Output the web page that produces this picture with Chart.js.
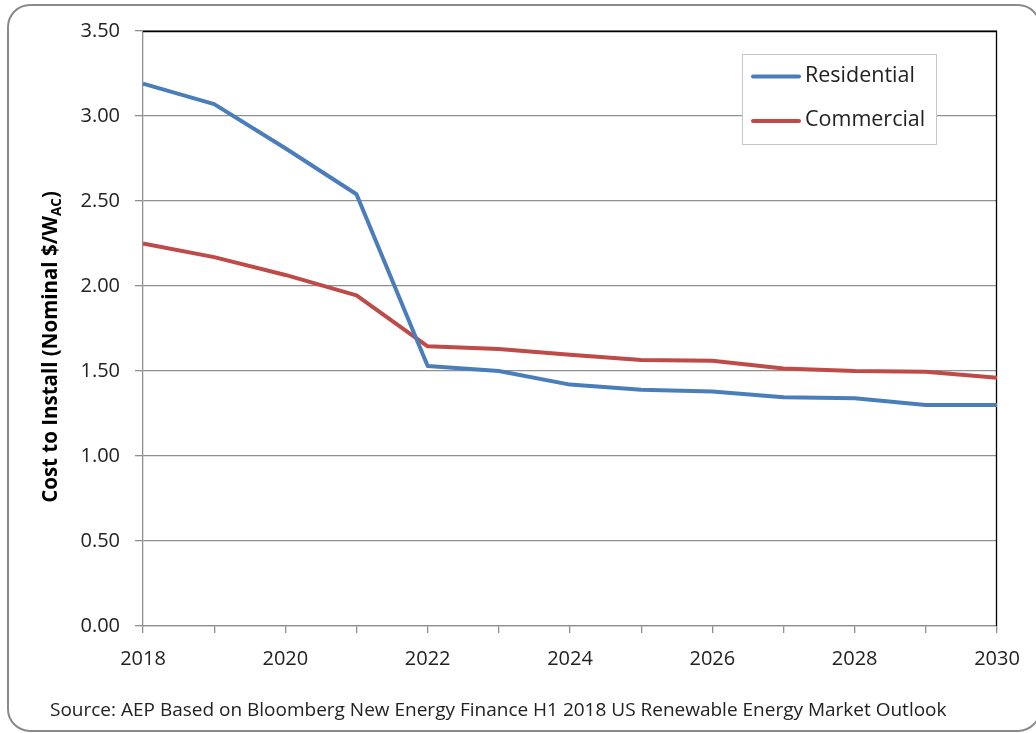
<!DOCTYPE html>
<html>
<head>
<meta charset="utf-8">
<script src="https://cdn.jsdelivr.net/npm/chart.js@4/dist/chart.umd.min.js"></script>
<style>
  html, body { margin: 0; padding: 0; background: #ffffff; }
  #wrap { width: 1036px; height: 733px; position: relative; }
  canvas { display: block; }
</style>
</head>
<body>
<div id="wrap"><canvas id="c" width="1036" height="733"></canvas></div>
<script>
// Installed cost outlook, nominal $ per W(AC)
const years = ['2018','2019','2020','2021','2022','2023','2024','2025','2026','2027','2028','2029','2030'];
const residential = [3.19, 3.07, 2.81, 2.54, 1.53, 1.50, 1.42, 1.39, 1.38, 1.345, 1.34, 1.30, 1.30];
const commercial  = [2.25, 2.17, 2.065, 1.945, 1.645, 1.63, 1.595, 1.565, 1.56, 1.515, 1.50, 1.495, 1.46];
const seriesNames = ['Residential', 'Commercial'];
const seriesColors = ['#4a7ebb', '#be4b48'];
const yMin = 0, yMax = 3.5, yStep = 0.5;
const yTitleMain = 'Cost to Install (Nominal $/W';
const yTitleSub = 'AC';
const yTitleEnd = ')';
const sourceNote = 'Source: AEP Based on Bloomberg New Energy Finance H1 2018 US Renewable Energy Market Outlook';

const FONT = "'Open Sans', 'Noto Sans', sans-serif";
const GRID = '#8f8f8f';
const TEXT = '#222222';

// Rounded frame round the whole figure
const framePlugin = {
  id: 'frame',
  beforeDraw(chart) {
    const ctx = chart.ctx;
    ctx.save();
    ctx.fillStyle = '#ffffff';
    ctx.fillRect(0, 0, chart.width, chart.height);
    ctx.strokeStyle = '#8a8a8a';
    ctx.lineWidth = 2;
    ctx.beginPath();
    ctx.roundRect(8, 5, 1032, 726, 22);
    ctx.stroke();
    ctx.restore();
  }
};

// Dark border on the top and right of the plot area
const plotBorderPlugin = {
  id: 'plotBorder',
  beforeDatasetsDraw(chart) {
    const { ctx, chartArea: a } = chart;
    ctx.save();
    ctx.strokeStyle = '#000000';
    ctx.lineWidth = 1.3;
    ctx.beginPath();
    ctx.moveTo(a.left, a.top + 0.5);
    ctx.lineTo(a.right - 0.5, a.top + 0.5);
    ctx.lineTo(a.right - 0.5, a.bottom);
    ctx.stroke();
    ctx.restore();
  }
};

// Boxed legend inside the plot, vertical axis title with subscript, source note
const annotatePlugin = {
  id: 'annotate',
  afterDraw(chart) {
    const ctx = chart.ctx;
    ctx.save();

    // legend box
    const bx = 742, by = 54, bw = 194, bh = 90;
    ctx.fillStyle = '#ffffff';
    ctx.fillRect(bx, by, bw, bh);
    ctx.strokeStyle = '#c6c6c6';
    ctx.lineWidth = 1;
    ctx.strokeRect(bx + 0.5, by + 0.5, bw, bh);
    const rows = [76.5, 121];
    chart.data.datasets.forEach((ds, i) => {
      const y = rows[i];
      ctx.strokeStyle = ds.borderColor;
      ctx.lineWidth = 4;
      ctx.lineCap = 'round';
      ctx.beginPath();
      ctx.moveTo(753, y);
      ctx.lineTo(799, y);
      ctx.stroke();
      ctx.fillStyle = TEXT;
      ctx.font = '21.5px ' + FONT;
      ctx.textBaseline = 'middle';
      ctx.textAlign = 'left';
      ctx.fillText(ds.label, 805, y - 1);
    });

    // vertical axis title
    ctx.translate(50, 347);
    ctx.rotate(-Math.PI / 2);
    const mainFont = 'bold 20.5px ' + FONT;
    const subFont = 'bold 13.5px ' + FONT;
    ctx.font = mainFont;
    const w1 = ctx.measureText(yTitleMain).width;
    const w3 = ctx.measureText(yTitleEnd).width;
    ctx.font = subFont;
    const w2 = ctx.measureText(yTitleSub).width;
    let x = -(w1 + w2 + w3) / 2;
    ctx.fillStyle = '#000000';
    ctx.textBaseline = 'alphabetic';
    ctx.textAlign = 'left';
    ctx.font = mainFont;
    ctx.fillText(yTitleMain, x, 7);
    x += w1;
    ctx.font = subFont;
    ctx.fillText(yTitleSub, x, 11);
    x += w2;
    ctx.font = mainFont;
    ctx.fillText(yTitleEnd, x, 7);
    ctx.setTransform(1, 0, 0, 1, 0, 0);

    // source note
    ctx.fillStyle = TEXT;
    ctx.font = '19px ' + FONT;
    ctx.textBaseline = 'middle';
    ctx.textAlign = 'left';
    ctx.fillText(sourceNote, 50, 711);
    ctx.restore();
  }
};

new Chart(document.getElementById('c'), {
  type: 'line',
  data: {
    labels: years,
    datasets: [
      { label: seriesNames[0], data: residential, borderColor: seriesColors[0] },
      { label: seriesNames[1], data: commercial, borderColor: seriesColors[1] }
    ]
  },
  options: {
    responsive: false,
    animation: false,
    devicePixelRatio: 1,
    layout: { padding: { top: 31, left: 0, right: 39, bottom: 0 } },
    elements: {
      line: { borderWidth: 4, tension: 0, borderJoinStyle: 'round', borderCapStyle: 'butt' },
      point: { radius: 0, hoverRadius: 0 }
    },
    plugins: { legend: { display: false }, tooltip: { enabled: false } },
    scales: {
      x: {
        type: 'category',
        offset: false,
        border: { display: true, color: GRID, width: 1.3 },
        grid: { display: true, drawOnChartArea: false, drawTicks: true, tickLength: 7, color: GRID, lineWidth: 1.3 },
        ticks: {
          autoSkip: false,
          maxRotation: 0,
          padding: 14,
          color: TEXT,
          font: { family: FONT, size: 20 },
          callback: (v, i) => (i % 2 === 0 ? years[i] : '')
        },
        afterFit(scale) { scale.height = 107; scale.paddingLeft = 0; scale.paddingRight = 0; }
      },
      y: {
        min: yMin,
        max: yMax,
        border: { display: true, color: GRID, width: 1.3 },
        grid: { color: GRID, lineWidth: 1.3, drawTicks: true, tickLength: 8, tickColor: GRID },
        ticks: {
          stepSize: yStep,
          padding: 15,
          color: TEXT,
          font: { family: FONT, size: 20 },
          callback: (v) => Number(v).toFixed(2)
        },
        afterFit(scale) { scale.width = 143; scale.paddingTop = 0; scale.paddingBottom = 0; }
      }
    }
  },
  plugins: [framePlugin, plotBorderPlugin, annotatePlugin]
});
</script>
</body>
</html>
